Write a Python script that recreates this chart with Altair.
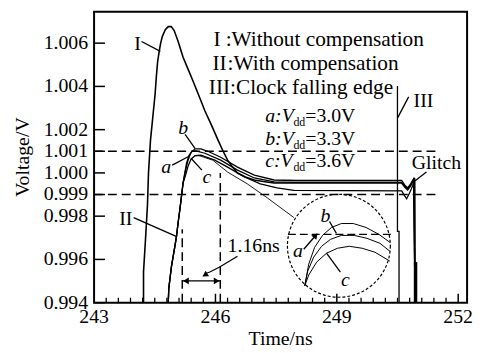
import altair as alt
import pandas as pd

FONT = "'Liberation Serif', 'Times New Roman', Times, serif"

# ---------------- axes ----------------
x_label_values = [243, 246, 249, 252]
x_label_text = ["243", "246", "249", "252"]
y_label_values = [0.994, 0.996, 0.998, 0.999, 1.000, 1.001, 1.002, 1.004, 1.006]
y_label_text = ["0.994", "0.996", "0.998", "0.999", "1.000", "1.001", "1.002", "1.004", "1.006"]
x_minor_ticks = [243.3, 243.6, 243.9, 244.2, 244.5, 244.8, 245.1, 245.4, 245.7,
                 246.3, 246.6, 246.9, 247.2, 247.5, 247.8, 248.1, 248.4, 248.7,
                 249.3, 249.6, 249.9, 250.2, 250.5, 250.8, 251.1, 251.4, 251.7]
x_major_ticks = [246, 249, 252]
x_title = "Time/ns"
y_title = "Voltage/V"

# ---------------- curves (time ns, voltage V) ----------------
I_t = [244.222, 244.222, 244.271, 244.320, 244.345, 244.394, 244.467, 244.509, 244.540,
       244.572, 244.614, 244.645, 244.687, 244.760, 244.834, 244.907, 244.980, 245.078,
       245.200, 245.323, 245.445, 245.609, 245.738, 245.885, 246.056, 246.178, 246.301,
       246.423, 246.545, 246.741, 246.961, 247.181, 247.450, 248.012, 249.235, 250.604,
       250.677, 250.751, 250.824, 250.897, 250.922, 250.934]
I_v = [0.994, 0.995418, 0.996928, 0.998529, 1.0, 1.001503, 1.002876, 1.003653, 1.004477,
       1.005163, 1.005666, 1.005987, 1.006307, 1.006627, 1.006764, 1.006764, 1.006581, 1.006078,
       1.005346, 1.004797, 1.004248, 1.003484, 1.002876, 1.002281, 1.001549, 1.001047, 1.000588,
       1.000268, 0.999993, 0.999810, 0.999673, 0.999604, 0.999536, 0.999536, 0.999536, 0.999536,
       0.999353, 0.999216, 0.999399, 0.999673, 0.999765, 0.994]

rise_t = [244.834, 244.846, 244.875, 244.914, 244.956, 244.997, 245.037, 245.078, 245.120, 245.159, 245.200]
rise_v = [0.994, 0.994641, 0.995098, 0.995693, 0.996150, 0.996608, 0.997065, 0.997706, 0.998301, 0.998895, 0.999536]

a_t = rise_t + [245.242, 245.286, 245.347, 245.421, 245.518, 245.738, 246.130, 246.545, 246.961,
                247.450, 248.012, 250.604, 250.677, 250.751, 250.824, 250.897, 250.934]
a_v = rise_v + [0.999993, 1.000451, 1.000817, 1.001000, 1.001023, 1.000909, 1.000588, 1.000130, 0.999765,
                0.999582, 0.999559, 0.999559, 0.999399, 0.999261, 0.999444, 0.999696, 0.994]

b_t = rise_t + [245.262, 245.323, 245.396, 245.494, 245.641, 245.812, 246.130, 246.545, 246.961,
                247.450, 248.012, 250.604, 250.677, 250.751, 250.824, 250.897, 250.934]
b_v = rise_v + [1.000130, 1.000588, 1.000954, 1.001114, 1.001114, 1.001000, 1.000725, 1.000268, 0.999902,
                0.999673, 0.999650, 0.999650, 0.999445, 0.999307, 0.999490, 0.999719, 0.994]

c_t = rise_t + [245.262, 245.323, 245.396, 245.494, 245.641, 245.983, 246.301, 246.717, 247.108,
                247.523, 247.939, 250.604, 250.677, 250.726, 250.800, 250.873, 250.922, 250.934]
c_v = rise_v + [0.999902, 1.000314, 1.000634, 1.000794, 1.000817, 1.000588, 1.000268, 0.999810, 0.999490,
                0.999307, 0.999193, 0.999170, 0.998941, 0.998804, 0.999078, 0.999399, 0.999719, 0.994]

clock_t = [250.499, 250.499, 250.538, 250.538]
clock_v = [1.004019, 0.997294, 0.997294, 0.994]

# magnifier: leader to the circle and the three enlarged curves
lead_t = [245.567, 245.934, 246.301, 246.790, 247.279, 247.939]
lead_v = [1.000817, 1.000588, 1.000039, 0.999490, 0.998850, 0.997935]

zb_t = [248.208, 248.306, 248.452, 248.648, 248.868, 249.112, 249.406, 249.724, 250.042, 250.311]
zb_v = [0.994778, 0.995784, 0.996562, 0.997111, 0.997477, 0.99766, 0.99766, 0.997477, 0.997157, 0.996791]
za_t = [248.208, 248.281, 248.428, 248.623, 248.844, 249.112, 249.430, 249.748, 250.066, 250.311]
za_v = [0.994778, 0.995464, 0.996105, 0.996608, 0.996928, 0.997111, 0.997111, 0.996974, 0.996745, 0.996379]
zc_t = [248.208, 248.306, 248.501, 248.746, 249.015, 249.308, 249.626, 249.944, 250.311]
zc_v = [0.994778, 0.995281, 0.995876, 0.996288, 0.996516, 0.996608, 0.996516, 0.996333, 0.995922]

arc_t = [246.545, 246.350, 246.105, 245.861, 245.76]
arc_v = [0.996150, 0.995922, 0.995647, 0.995418, 0.99535]

# ---------------- reference lines ----------------
dash_h = [(243.0, 1.001, 251.509, 1.001), (243.0, 0.999, 251.509, 0.999)]
dash_v = [(245.18, 0.994, 245.18, 0.9974), (246.12, 0.994, 246.12, 1.0)]
inset_dash = [(247.792, 0.997157, 250.335, 0.997157)]
circle_center = (249.051, 0.996631)

leaders = [
    (244.174, 1.006078, 244.638, 1.005621),   # I
    (243.978, 0.997935, 245.029, 0.997065),   # II
    (250.775, 1.003516, 250.506, 1.002555),   # III
    (251.215, 1.000039, 250.897, 0.999582),   # Glitch
    (244.932, 1.000359, 245.347, 1.000771),   # a
    (245.249, 1.001778, 245.494, 1.001137),   # b
    (245.665, 1.000130, 245.396, 1.000679),   # c
    (248.819, 0.997752, 248.990, 0.997203),   # inset b
    (249.088, 0.995418, 248.746, 0.996288),   # inset c
    (248.183, 0.996471, 248.450, 0.997050),   # inset a arrow
    (245.18, 0.995007, 246.12, 0.995007),     # 1.16 ns span
]
heads = [
    (245.27, 0.995007, "triangle-left", 0),
    (246.03, 0.995007, "triangle-right", 0),
    (245.738, 0.995281, "triangle-up", 239),
    (248.477, 0.997111, "triangle-up", 41),
]
thick_drop = [(250.946, 0.994, 250.946, 0.995876)]

# ---------------- texts ----------------
legend_left = [(":Without compensation", 246.252, 1.006124), (":With compensation", 246.301, 1.005026),
               (":Clock falling edge", 246.362, 1.003928)]
legend_right = [("I", 246.130, 1.006124), ("II", 246.276, 1.005026), ("III", 246.362, 1.003928)]
txt_left = [("=3.0V", 248.220, 1.002647), ("=3.3V", 248.220, 1.001549), ("=3.6V", 248.220, 1.000542),
            ("1.16ns", 246.301, 0.99663)]
txt_center = [("I", 244.076, 1.005941), ("II", 243.782, 0.997843), ("III", 251.142, 1.003333),
              ("Glitch", 251.460, 1.000451)]
ital_left = [("a:V", 247.230, 1.002647), ("b:V", 247.230, 1.001549), ("c:V", 247.230, 1.000542)]
ital_center = [("a", 244.785, 1.000268), ("b", 245.200, 1.002052), ("c", 245.787, 0.999810),
               ("b", 248.721, 0.998026), ("a", 248.037, 0.996379), ("c", 249.210, 0.995052)]
sub_left = [("dd", 247.927, 1.002372), ("dd", 247.927, 1.001274), ("dd", 247.927, 1.000268)]

# ---------------- build ----------------
W, H = 377, 294
XS = alt.Scale(domain=[243, 252.22], nice=False, zero=False)
YS = alt.Scale(domain=[0.994, 1.00745], nice=False, zero=False)


def X(f):
    return alt.X(f"{f}:Q", scale=XS, axis=None)


def Y(f):
    return alt.Y(f"{f}:Q", scale=YS, axis=None)


def series_df(items):
    rows = []
    for name, ts, vs, w in items:
        for i, (t, v) in enumerate(zip(ts, vs)):
            rows.append({"s": name, "i": i, "t": t, "v": v, "w": w})
    return pd.DataFrame(rows)


curves = series_df([
    ("I", I_t, I_v, 1.6), ("a", a_t, a_v, 1.3), ("b", b_t, b_v, 1.3), ("c", c_t, c_v, 1.3),
    ("clock", clock_t, clock_v, 1.3), ("lead", lead_t, lead_v, 0.9),
    ("zb", zb_t, zb_v, 1.0), ("za", za_t, za_v, 1.0), ("zc", zc_t, zc_v, 1.0),
    ("arc", arc_t, arc_v, 1.2),
])

line_layer = alt.Chart(curves).mark_line(color="black", strokeJoin="miter").encode(
    x=X("t"), y=Y("v"), detail="s:N", order="i:Q",
    size=alt.Size("w:Q", scale=None, legend=None))


def seg_df(items):
    return pd.DataFrame(items, columns=["t", "v", "t2", "v2"])


def seg_layer(items, **kw):
    return alt.Chart(seg_df(items)).mark_rule(color="black", **kw).encode(
        x=X("t"), y=Y("v"), x2="t2:Q", y2="v2:Q")


dash_layer = seg_layer(dash_h + dash_v, strokeDash=[9, 5], strokeWidth=1.5)
inset_dash_layer = seg_layer(inset_dash, strokeDash=[8, 4], strokeWidth=1.2)
leader_layer = seg_layer(leaders, strokeWidth=1.3)
thick_layer = seg_layer(thick_drop, strokeWidth=3.5)

heads_df = pd.DataFrame(heads, columns=["t", "v", "shape", "angle"])
heads_layer = alt.Chart(heads_df).mark_point(filled=True, color="black", opacity=1, size=45).encode(
    x=X("t"), y=Y("v"), shape=alt.Shape("shape:N", scale=None, legend=None),
    angle=alt.Angle("angle:Q", scale=None))

circ_df = pd.DataFrame([{"t": circle_center[0], "v": circle_center[1]}])
circle_layer = alt.Chart(circ_df).mark_point(shape="circle", size=104 * 104, filled=False, color="black",
                                              opacity=1, strokeWidth=1.2, strokeDash=[3, 2]).encode(
    x=X("t"), y=Y("v"))


def text_layer(items, align, size=20, style="normal"):
    df = pd.DataFrame(items, columns=["txt", "t", "v"])
    return alt.Chart(df).mark_text(font=FONT, fontSize=size, fontStyle=style, align=align,
                                   baseline="middle", color="black").encode(
        x=X("t"), y=Y("v"), text="txt:N")


texts = [
    text_layer(legend_left, "left", size=21.5), text_layer(legend_right, "right", size=21.5),
    text_layer(txt_left, "left"), text_layer(txt_center, "center"),
    text_layer(ital_left, "left", style="italic"), text_layer(ital_center, "center", style="italic"),
    text_layer(sub_left, "left", size=12),
]

# ---- hand-made axes (inward ticks, serif labels) ----
ytick_df = pd.DataFrame({"v": y_label_values, "lab": y_label_text})
ytick_layer = alt.Chart(ytick_df).mark_rule(color="black", strokeWidth=1.5).encode(
    y=Y("v"), x=alt.value(0), x2=alt.value(11))
ylab_layer = alt.Chart(ytick_df).mark_text(font=FONT, fontSize=20, align="right", baseline="middle",
                                           color="black").encode(
    y=Y("v"), x=alt.value(-6), text="lab:N")

xlab_df = pd.DataFrame({"t": x_label_values, "lab": x_label_text})
xlab_layer = alt.Chart(xlab_df).mark_text(font=FONT, fontSize=20, align="center", baseline="top",
                                          color="black").encode(
    x=X("t"), y=alt.value(H + 5), text="lab:N")
xminor_layer = alt.Chart(pd.DataFrame({"t": x_minor_ticks})).mark_rule(color="black", strokeWidth=1.3).encode(
    x=X("t"), y=alt.value(H), y2=alt.value(H - 5))
xmajor_layer = alt.Chart(pd.DataFrame({"t": x_major_ticks})).mark_rule(color="black", strokeWidth=1.5).encode(
    x=X("t"), y=alt.value(H), y2=alt.value(H - 9))

titles_df = pd.DataFrame({"name": [x_title]})
xtitle_layer = alt.Chart(titles_df).mark_text(font=FONT, fontSize=20, align="center", baseline="middle",
                                              color="black").encode(
    x=alt.value(W / 2), y=alt.value(H + 37), text="name:N")
ytitle_layer = alt.Chart(pd.DataFrame({"name": [y_title]})).mark_text(
    font=FONT, fontSize=20, align="center", baseline="middle", angle=270, color="black").encode(
    x=alt.value(-72), y=alt.value(H / 2), text="name:N")

chart = alt.layer(
    dash_layer, inset_dash_layer, circle_layer, line_layer, thick_layer, leader_layer, heads_layer,
    ytick_layer, xminor_layer, xmajor_layer, ylab_layer, xlab_layer, xtitle_layer, ytitle_layer,
    *texts
).properties(
    width=W, height=H,
    padding={"left": 87, "top": 2, "right": 8, "bottom": 46},
    autosize=alt.AutoSizeParams(type="none"),
    background="white",
).configure_view(
    stroke="black", strokeWidth=2
)

chart.save("out.html", embed_options={"renderer": "svg", "actions": False})
